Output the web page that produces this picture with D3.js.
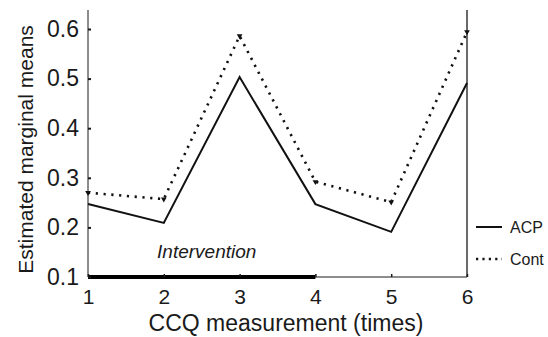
<!DOCTYPE html>
<html>
<head>
<meta charset="utf-8">
<script src="https://cdn.jsdelivr.net/npm/d3@7"></script>
<style>
  body { margin: 0; background: #fff; }
  svg { display: block; font-family: "Liberation Sans", Arial, sans-serif; }
</style>
</head>
<body>
<div id="chart"></div>
<script>
const times = [1, 2, 3, 4, 5, 6];
const acp = [0.247, 0.209, 0.503, 0.247, 0.191, 0.491];
const cont = [0.270, 0.257, 0.586, 0.292, 0.251, 0.594];
const yTicks = [0.1, 0.2, 0.3, 0.4, 0.5, 0.6];
const interventionSpan = [1, 4];

const width = 548, height = 337;
const x = d3.scaleLinear().domain([1, 6]).range([88, 467]);
const y = d3.scaleLinear().domain([0.1, 0.6]).range([277, 29]);

const svg = d3.select("#chart").append("svg")
  .attr("width", width).attr("height", height);

const ink = "#1a1a1a";

// frame: left axis, right axis, baseline
svg.append("line").attr("x1", x(1)).attr("x2", x(1)).attr("y1", 10).attr("y2", y(0.1))
  .attr("stroke", ink).attr("stroke-width", 1);
svg.append("line").attr("x1", x(6)).attr("x2", x(6)).attr("y1", 10).attr("y2", y(0.1))
  .attr("stroke", ink).attr("stroke-width", 1.3);
svg.append("line").attr("x1", x(1)).attr("x2", x(6)).attr("y1", y(0.1)).attr("y2", y(0.1))
  .attr("stroke", ink).attr("stroke-width", 1);

// intervention bar
svg.append("line")
  .attr("x1", x(interventionSpan[0])).attr("x2", x(interventionSpan[1]))
  .attr("y1", y(0.1)).attr("y2", y(0.1))
  .attr("stroke", "#000").attr("stroke-width", 4);
svg.append("text")
  .attr("x", (x(interventionSpan[0]) + x(interventionSpan[1])) / 2 + 5)
  .attr("y", 258)
  .attr("text-anchor", "middle")
  .attr("font-style", "italic")
  .attr("font-size", 19)
  .attr("fill", ink)
  .text("Intervention");

// y axis
const yAxis = d3.axisLeft(y).tickValues(yTicks).tickFormat(d3.format(".1f")).tickSize(-3).tickPadding(9);
const gy = svg.append("g").attr("transform", `translate(${x(1)},0)`).call(yAxis)
  .attr("font-size", null).attr("font-family", null);
gy.select(".domain").remove();
gy.selectAll("text").style("font-size", "23px").attr("fill", ink);
gy.selectAll("line").attr("stroke", ink).attr("stroke-width", 2);

// x axis
const xAxis = d3.axisBottom(x).tickValues(times).tickFormat(d3.format("d")).tickSize(-3).tickPadding(12);
const gx = svg.append("g").attr("transform", `translate(0,${y(0.1)})`).call(xAxis)
  .attr("font-size", null).attr("font-family", null);
gx.select(".domain").remove();
gx.selectAll("text").style("font-size", "21px").attr("fill", ink);
gx.selectAll("line").attr("stroke", ink).attr("stroke-width", 1.5);

// lines
const line = d3.line().x((d, i) => x(times[i])).y(d => y(d));
svg.append("path").datum(acp).attr("d", line)
  .attr("fill", "none").attr("stroke", "#111").attr("stroke-width", 2);
svg.append("path").datum(cont).attr("d", line)
  .attr("fill", "none").attr("stroke", "#111").attr("stroke-width", 2.6)
  .attr("stroke-dasharray", "2.2 5.6");

// small triangle markers on Cont
svg.selectAll("path.mark").data(cont).enter().append("path").attr("class", "mark")
  .attr("d", d3.symbol().type(d3.symbolTriangle).size(14))
  .attr("transform", (d, i) => `translate(${x(times[i])},${y(d)}) rotate(180)`)
  .attr("fill", "#111");

// axis titles
svg.append("text")
  .attr("transform", `translate(33,${(10 + y(0.1)) / 2 + 6}) rotate(-90)`)
  .attr("text-anchor", "middle")
  .attr("font-size", 21)
  .attr("fill", ink)
  .text("Estimated marginal means");
svg.append("text")
  .attr("x", 286).attr("y", 331)
  .attr("text-anchor", "middle")
  .attr("font-size", 23)
  .attr("fill", ink)
  .text("CCQ measurement (times)");

// legend
const legend = [
  { name: "ACP", dash: null, w: 2, yy: 227 },
  { name: "Cont", dash: "2.2 4.2", w: 2.6, yy: 259 }
];
const lg = svg.append("g").selectAll("g").data(legend).enter().append("g");
lg.append("line").attr("x1", 476).attr("x2", 502)
  .attr("y1", d => d.yy).attr("y2", d => d.yy)
  .attr("stroke", "#111").attr("stroke-width", d => d.w)
  .attr("stroke-dasharray", d => d.dash);
lg.append("text").attr("x", 510).attr("y", d => d.yy + 6)
  .attr("font-size", 16).attr("fill", ink)
  .text(d => d.name);
</script>
</body>
</html>
